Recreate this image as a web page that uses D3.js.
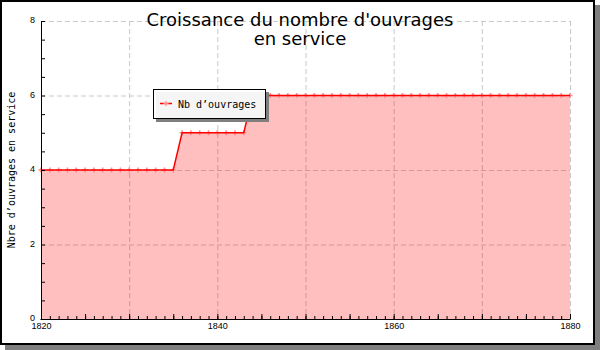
<!DOCTYPE html>
<html><head><meta charset="utf-8">
<script src="https://cdn.jsdelivr.net/npm/d3@7"></script>
<style>body{margin:0;background:#fff}svg{display:block}</style>
</head><body>
<script>
const years = d3.range(1820, 1881);
const values = [
  4,4,4,4,4,4,4,4,4,4,4,4,4,4,4,4,   // 1820-1835
  5,5,5,5,5,5,5,5,                   // 1836-1843
  6,6,6,6,6,6,6,6,6,6,6,6,6,6,6,6,6,6,6,6,6,6,6,6,6,6,6,6,6,6,6,6,6,6,6,6,6 // 1844-1880
];
const xLabelTicks = [1820, 1840, 1860, 1880];
const yLabelTicks = [0, 2, 4, 6, 8];
const titleLines = ["Croissance du nombre d'ouvrages", "en service"];
const yTitle = "Nbre d\u2019ouvrages en service";
const legendLabel = "Nb d\u2019ouvrages";

const data = years.map((yr, i) => ({yr, v: values[i]}));

const W = 600, H = 350;
const svg = d3.select("body").append("svg").attr("width", W).attr("height", H);

// frame + shadow
svg.append("rect").attr("x",5).attr("y",5).attr("width",595).attr("height",345).attr("fill","#7f7f7f");
svg.append("rect").attr("x",1).attr("y",1).attr("width",593).attr("height",343)
  .attr("fill","#fff").attr("stroke","#000").attr("stroke-width",2);

const x = d3.scaleLinear().domain([1820,1880]).range([41,570]);
const y = d3.scaleLinear().domain([0,8]).range([319,21]);

// gridlines
const grid = svg.append("g").attr("stroke","#c8c8c8").attr("stroke-dasharray","5,3").attr("stroke-width",1);
grid.selectAll("line.v").data(d3.range(1830,1881,10)).join("line")
  .attr("x1",d=>x(d)+0.5).attr("x2",d=>x(d)+0.5).attr("y1",y(8)).attr("y2",y(0));
grid.selectAll("line.h").data([2,4,6,8]).join("line")
  .attr("x1",x(1820)).attr("x2",x(1880)).attr("y1",d=>y(d)+0.5).attr("y2",d=>y(d)+0.5);

// area
const area = d3.area().x(d=>x(d.yr)).y0(y(0)).y1(d=>y(d.v));
svg.append("path").datum(data).attr("d",area).attr("fill","#ff0000").attr("fill-opacity",0.25);

// markers
const mk = svg.append("g").attr("stroke","#ff8c8c").attr("stroke-width",1.6);
mk.selectAll("path").data(data).join("path")
  .attr("d",d=>`M${x(d.yr)-2.5},${y(d.v)}h5M${x(d.yr)},${y(d.v)-2.5}v5`);

// line
const line = d3.line().x(d=>x(d.yr)).y(d=>y(d.v));
svg.append("path").datum(data).attr("d",line).attr("fill","none").attr("stroke","#ff0000").attr("stroke-width",1.5);

// axes
const tickFont = "'Liberation Sans', Arial, sans-serif";
function styleAxis(g){ g.select(".domain").remove(); g.selectAll("line").attr("stroke","#000"); }
svg.append("g").attr("transform",`translate(0,${y(0)})`)
  .call(d3.axisBottom(x).tickValues(years).tickSize(-3).tickFormat(""))
  .call(styleAxis);
svg.append("g").attr("transform",`translate(0,${y(0)})`)
  .call(d3.axisBottom(x).tickValues(d3.range(1820,1881,5)).tickSize(-5).tickFormat(""))
  .call(styleAxis);
const xl = svg.append("g").attr("transform",`translate(0,${y(0)})`)
  .call(d3.axisBottom(x).tickValues(xLabelTicks).tickSize(0).tickPadding(4).tickFormat(d3.format("d")))
  .call(styleAxis);
xl.selectAll("text").attr("font-family",tickFont).attr("font-size",9).attr("fill","#000");

svg.append("g").attr("transform",`translate(${x(1820)},0)`)
  .call(d3.axisLeft(y).tickValues(d3.range(0,8.01,0.5)).tickSize(-4).tickFormat(""))
  .call(styleAxis);
const yl = svg.append("g").attr("transform",`translate(${x(1820)},0)`)
  .call(d3.axisLeft(y).tickValues(yLabelTicks).tickSize(0).tickPadding(6).tickFormat(d3.format("d")))
  .call(styleAxis);
yl.selectAll("text").attr("font-family",tickFont).attr("font-size",9).attr("fill","#000").attr("dy","0.2em");

// axis lines
svg.append("line").attr("x1",x(1820)-0.5).attr("x2",x(1880)+0.5).attr("y1",y(0)+0.5).attr("y2",y(0)+0.5).attr("stroke","#000");
svg.append("line").attr("x1",x(1820)+0.5).attr("x2",x(1820)+0.5).attr("y1",y(8)).attr("y2",y(0)+1).attr("stroke","#000");

// title
const t = svg.append("text").attr("text-anchor","middle").attr("font-family","'DejaVu Sans', sans-serif")
  .attr("font-size",18).attr("fill","#000");
t.selectAll("tspan").data(titleLines).join("tspan").attr("x",300).attr("y",(d,i)=>26+i*19).text(d=>d);

// y title
svg.append("text").attr("transform",`translate(15,${(y(0)+y(8))/2}) rotate(-90)`)
  .attr("text-anchor","middle").attr("font-family","'DejaVu Sans Mono', monospace").attr("font-size",10)
  .text(yTitle);

// legend
const lg = svg.append("g");
lg.append("rect").attr("x",156).attr("y",92).attr("width",113).attr("height",30).attr("fill","#7f7f7f");
lg.append("rect").attr("x",153.5).attr("y",89.5).attr("width",112).attr("height",29)
  .attr("fill","#fff").attr("fill-opacity",0.92).attr("stroke","#000").attr("stroke-width",1);
lg.append("line").attr("x1",160).attr("x2",172).attr("y1",103.5).attr("y2",103.5).attr("stroke","#ff0000").attr("stroke-width",1.5);
lg.append("path").attr("d","M163.5,103.5h5M166,101v5").attr("stroke","#ff8c8c").attr("stroke-width",1.2);
lg.append("text").attr("x",178).attr("y",108).attr("font-family","'DejaVu Sans Mono', monospace").attr("font-size",10).text(legendLabel);
</script>
</body></html>
